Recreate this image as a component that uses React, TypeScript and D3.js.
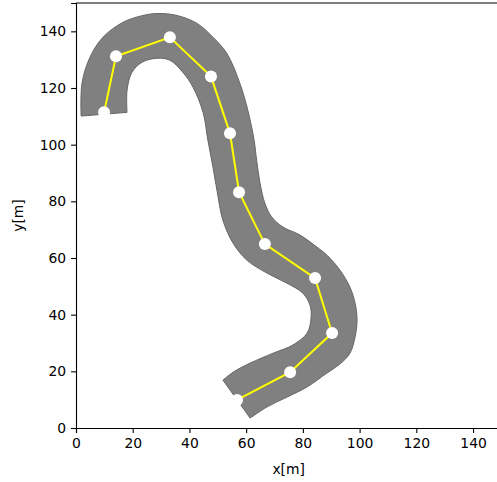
import React, { useEffect, useRef } from 'react';
import * as d3 from 'd3';

// road centre waypoints [x, y] in metres
const waypoints: [number, number][] = [
  [9.9, 111.4], [14.1, 131.2], [33.1, 137.9], [47.6, 124.1], [54.3, 104.0],
  [57.5, 83.2], [66.6, 64.9], [84.3, 52.9], [90.3, 33.5], [75.5, 19.7], [56.8, 9.9],
];

// road edge, one side (outer at the top bend)
const edgeA: [number, number][] = [
  [1.8, 110.1], [2.1, 121.6], [4.9, 130.8], [9.5, 137.9], [16.6, 143.2],
  [23.6, 145.6], [28.9, 146.3], [35.6, 145.6], [42.7, 142.8], [48.3, 137.9],
  [53.2, 132.2], [57.8, 121.6], [60.6, 112.1], [62.8, 101.6], [63.7, 94.5],
  [64.9, 86.4], [66.6, 79.3], [69.0, 74.5], [73.0, 70.9], [79.0, 68.1],
  [85.0, 63.8], [88.5, 61.0], [93.1, 55.7], [96.6, 49.7], [98.4, 44.1],
  [99.1, 38.1], [98.4, 32.1], [96.6, 26.4], [93.1, 22.6],
  [88.5, 19.4], [81.5, 14.5], [74.4, 10.9], [67.3, 7.4], [61.4, 3.5],
];

// road edge, other side
const edgeB: [number, number][] = [
  [18.0, 111.4], [18.0, 119.2], [19.7, 125.5], [23.3, 129.1], [28.6, 130.5],
  [33.1, 129.8], [37.7, 125.5], [41.3, 120.2], [44.8, 111.4], [46.5, 101.6],
  [48.3, 92.0], [49.7, 83.9], [51.8, 73.3], [55.4, 65.2], [60.3, 59.2],
  [67.3, 54.7], [74.4, 51.1], [80.0, 47.6], [82.5, 43.4], [82.9, 39.1],
  [81.5, 33.5], [76.5, 29.3], [69.5, 26.4], [61.4, 22.9], [55.4, 19.7], [51.8, 16.9],
];

const xTicks = [0, 20, 40, 60, 80, 100, 120, 140];
const yTicks = [0, 20, 40, 60, 80, 100, 120, 140];

const W = 497;
const H = 482;
const FONT = 'DejaVu Sans, sans-serif';

const App = () => {
  const svgRef = useRef<SVGSVGElement>(null);

  useEffect(() => {
    const svg = d3.select(svgRef.current);
    svg.selectAll('*').remove();

    const x = d3.scaleLinear().domain([0, 150]).range([76, 501.4]);
    const y = d3.scaleLinear().domain([0, 150]).range([428, 3]);

    // road body
    const smooth = d3.line<[number, number]>()
      .x(d => x(d[0]))
      .y(d => y(d[1]))
      .curve(d3.curveCatmullRom.alpha(0.5));
    const sideA = smooth(edgeA) || '';
    const sideB = (smooth(edgeB.slice().reverse()) || '').replace(/^M/, 'L');
    svg.append('path')
      .attr('d', sideA + sideB + 'Z')
      .attr('fill', '#808080')
      .attr('stroke', '#666666')
      .attr('stroke-width', 1);

    // centre line
    const straight = d3.line<[number, number]>()
      .x(d => x(d[0]))
      .y(d => y(d[1]));
    svg.append('path')
      .attr('d', straight(waypoints))
      .attr('fill', 'none')
      .attr('stroke', '#ffff00')
      .attr('stroke-width', 2);

    svg.selectAll('circle.wp')
      .data(waypoints)
      .enter()
      .append('circle')
      .attr('class', 'wp')
      .attr('cx', d => x(d[0]))
      .attr('cy', d => y(d[1]))
      .attr('r', 6)
      .attr('fill', '#ffffff');

    // axes
    const gx = svg.append('g')
      .attr('transform', `translate(0, ${y(0)})`)
      .call(d3.axisBottom(x).tickValues(xTicks).tickSizeOuter(0).tickSize(4.9).tickPadding(4.9));
    const gy = svg.append('g')
      .attr('transform', `translate(${x(0)}, 0)`)
      .call(d3.axisLeft(y).tickValues(yTicks).tickSizeOuter(0).tickSize(4.9).tickPadding(4.9));
    [gx, gy].forEach(g => {
      g.attr('font-family', FONT).attr('font-size', 13.9);
      g.selectAll('text').attr('fill', '#000');
      g.selectAll('line').attr('stroke', '#000').attr('stroke-width', 1.1);
      g.select('.domain').attr('stroke', '#000').attr('stroke-width', 1.1);
    });

    // top and right spines
    svg.append('line')
      .attr('x1', x(0)).attr('x2', x(150))
      .attr('y1', y(150)).attr('y2', y(150))
      .attr('stroke', '#000').attr('stroke-width', 1.1);
    svg.append('line')
      .attr('x1', x(150)).attr('x2', x(150))
      .attr('y1', y(0)).attr('y2', y(150))
      .attr('stroke', '#000').attr('stroke-width', 1.1);

    svg.append('text')
      .attr('x', (x(0) + x(150)) / 2)
      .attr('y', 474)
      .attr('text-anchor', 'middle')
      .attr('font-family', FONT)
      .attr('font-size', 13.9)
      .text('x[m]');

    svg.append('text')
      .attr('transform', `translate(23, ${(y(0) + y(150)) / 2}) rotate(-90)`)
      .attr('text-anchor', 'middle')
      .attr('font-family', FONT)
      .attr('font-size', 13.9)
      .text('y[m]');
  }, []);

  return (
    <svg
      ref={svgRef}
      width={W}
      height={H}
      style={{ position: 'absolute', left: 0, top: 0, background: '#fff' }}
    />
  );
};

export default App;
